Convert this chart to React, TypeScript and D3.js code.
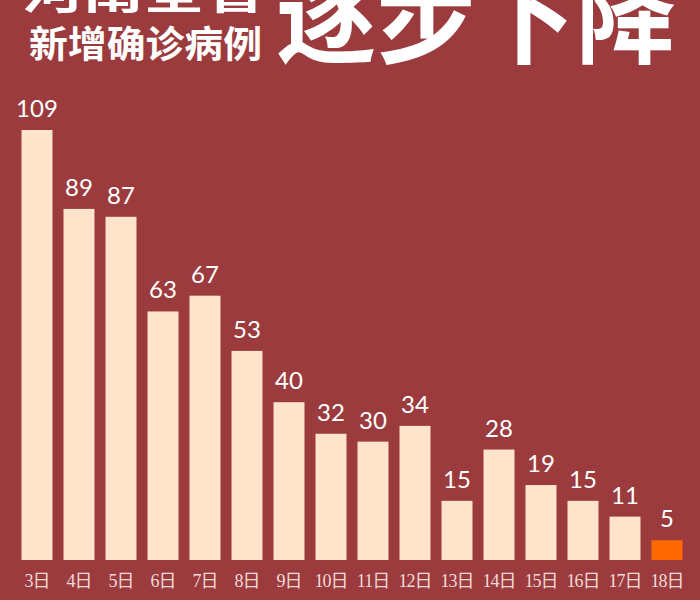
import * as d3 from "d3";

const categories = ["3日", "4日", "5日", "6日", "7日", "8日", "9日", "10日", "11日", "12日", "13日", "14日", "15日", "16日", "17日", "18日"];
const values = [109, 89, 87, 63, 67, 53, 40, 32, 30, 34, 15, 28, 19, 15, 11, 5];
const highlight = "18日";

const W = 700;
const H = 600;

export default function App() {
    const x = d3.scaleBand<string>().domain(categories).range([16, 688]).paddingInner(0.262).paddingOuter(0.131);
    const y = d3.scaleLinear().domain([0, 109]).range([560, 130]);

    return (
        <svg width={W} height={H} style={{ position: "absolute", left: 0, top: 0, display: "block" }}>
            <rect width={W} height={H} fill="#9b3b3d" />

            {/* title, partly cut off at the top like the source image */}
            <g fill="#fff" fontFamily="'Noto Sans CJK SC', sans-serif" fontWeight="bold">
                <text x={22} y={9} fontSize={42} textLength={243} lengthAdjust="spacingAndGlyphs">河南全省</text>
                <text x={29} y={58} fontSize={37} textLength={233} lengthAdjust="spacingAndGlyphs">新增确诊病例</text>
                <text x={276} y={55} fontSize={108} textLength={400} lengthAdjust="spacingAndGlyphs">逐步下降</text>
            </g>

            {/* bars */}
            {categories.map((c, i) => (
                <rect
                    key={c}
                    x={x(c)}
                    y={y(values[i])}
                    width={x.bandwidth()}
                    height={y(0) - y(values[i])}
                    fill={c === highlight ? "#ff6a00" : "#ffe4cc"}
                />
            ))}

            {/* value labels */}
            {categories.map((c, i) => (
                <text
                    key={"v" + c}
                    x={x(c)! + x.bandwidth() / 2}
                    y={y(values[i]) - 13}
                    textAnchor="middle"
                    fill="#fff"
                    fontFamily="Lato, 'Noto Sans', sans-serif"
                    fontSize={24}
                >
                    {values[i]}
                </text>
            ))}

            {/* category labels */}
            {categories.map((c) => (
                <text
                    key={"c" + c}
                    x={x(c)! + x.bandwidth() / 2}
                    y={587}
                    textAnchor="middle"
                    fill="#f3d9d6"
                    fontFamily="'Liberation Serif', 'Noto Sans CJK SC', serif"
                    fontSize={18}
                    letterSpacing={-1}
                >
                    {c}
                </text>
            ))}
        </svg>
    );
}
